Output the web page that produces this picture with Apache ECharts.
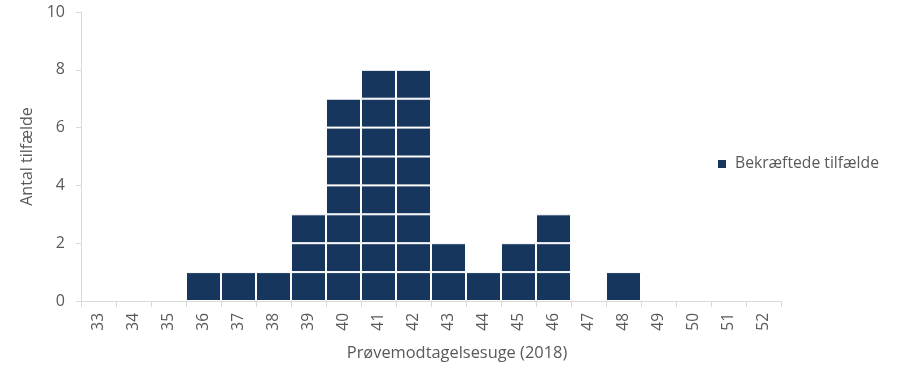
<!DOCTYPE html>
<html><head><meta charset="utf-8">
<script src="https://cdn.jsdelivr.net/npm/echarts@6/dist/echarts.min.js"></script>
<style>html,body{margin:0;padding:0;background:#fff}#c{width:908px;height:380px}</style>
</head><body><div id="c"></div>
<script>
const weeks = ['33','34','35','36','37','38','39','40','41','42','43','44','45','46','47','48','49','50','51','52'];
const cases = [0,0,0,1,1,1,3,7,8,8,2,1,2,3,0,1,0,0,0,0];
const yTicks = [0,2,4,6,8,10];
const seriesName = 'Bekræftede tilfælde';
const xTitle = 'Prøvemodtagelsesuge (2018)';
const yTitle = 'Antal tilfælde';

const maxCount = Math.max(...cases);
const series = [];
for (let k = 1; k <= maxCount; k++) {
  series.push({
    name: seriesName, type: 'bar', stack: 'epi', barCategoryGap: '0%',
    itemStyle: {color: '#17365d', borderColor: '#ffffff', borderWidth: 1},
    data: cases.map(c => c >= k ? 1 : '-')
  });
}
const font = 'Open Sans';
const chart = echarts.init(document.getElementById('c'));
chart.setOption({
  animation: false,
  textStyle: {fontFamily: font},
  grid: {left: 81, right: 127, top: 12, bottom: 79},
  legend: {
    data: [seriesName], left: 716, top: 156, padding: 0, itemWidth: 10, itemHeight: 10, itemGap: 6,
    icon: 'rect', textStyle: {fontFamily: font, fontSize: 15.7, color: '#595959', padding: [0, 0, 0, 3]}
  },
  xAxis: {
    type: 'category', data: weeks,
    name: xTitle, nameLocation: 'middle', nameGap: 44,
    nameTextStyle: {fontFamily: font, fontSize: 16.4, color: '#595959', padding: [0, 0, 0, 52]},
    axisLine: {lineStyle: {color: '#d9d9d9'}},
    axisTick: {show: true, length: 6, lineStyle: {color: '#d9d9d9'}},
    axisLabel: {rotate: 90, fontSize: 15.5, color: '#595959', margin: 12}
  },
  yAxis: {
    type: 'value', min: yTicks[0], max: yTicks[yTicks.length-1], interval: yTicks[1]-yTicks[0],
    name: yTitle, nameLocation: 'middle', nameGap: 35,
    nameTextStyle: {fontFamily: font, fontSize: 16, color: '#595959'},
    axisLine: {show: true, lineStyle: {color: '#d9d9d9'}},
    axisTick: {show: true, length: 5, lineStyle: {color: '#d9d9d9'}},
    splitLine: {show: false},
    axisLabel: {fontSize: 16, color: '#595959', margin: 16}
  },
  series: series
});
</script></body></html>
